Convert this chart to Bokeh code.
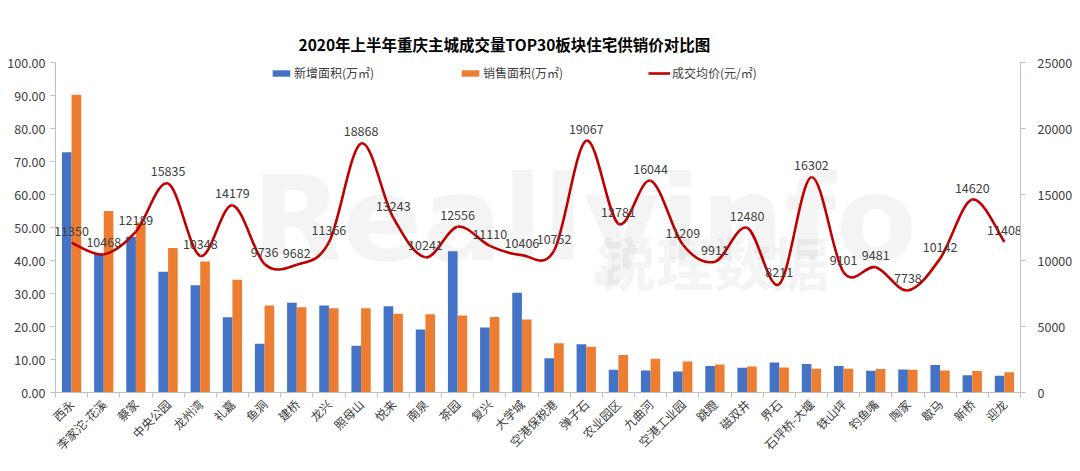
import math
from bokeh.plotting import figure
from bokeh.models import (Range1d, LinearAxis, FixedTicker, NumeralTickFormatter,
                          Legend, LegendItem, ColumnDataSource)
from bokeh.core.properties import value
from bokeh.embed import file_html
from bokeh.resources import INLINE

title_text = "2020年上半年重庆主城成交量TOP30板块住宅供销价对比图"
categories = ["西永", "李家沱-花溪", "蔡家", "中央公园", "龙州湾", "礼嘉", "鱼洞", "建桥", "龙兴", "照母山",
              "悦来", "南泉", "茶园", "复兴", "大学城", "空港保税港", "弹子石", "农业园区", "九曲河", "空港工业园",
              "跳蹬", "磁双井", "界石", "石坪桥-大堰", "铁山坪", "钓鱼嘴", "陶家", "歇马", "新桥", "迎龙"]
new_area = [72.8, 42.0, 47.2, 36.6, 32.5, 22.8, 14.8, 27.2, 26.4, 14.2,
            26.1, 19.1, 42.8, 19.7, 30.2, 10.4, 14.6, 6.9, 6.7, 6.4,
            8.0, 7.5, 9.1, 8.6, 8.0, 6.6, 7.0, 8.3, 5.2, 5.1]
sold_area = [90.2, 55.0, 51.5, 43.8, 39.7, 34.2, 26.4, 25.8, 25.5, 25.5,
             23.9, 23.7, 23.3, 22.9, 22.1, 14.9, 13.9, 11.4, 10.2, 9.4,
             8.5, 7.9, 7.6, 7.2, 7.2, 7.1, 6.9, 6.7, 6.5, 6.1]
price = [11350, 10468, 12189, 15835, 10348, 14179, 9736, 9682, 11366, 18868,
         13243, 10241, 12556, 11110, 10406, 10752, 19067, 12781, 16044, 11209,
         9911, 12480, 8211, 16302, 9101, 9481, 7738, 10142, 14620, 11408]
left_ticks = [0, 10, 20, 30, 40, 50, 60, 70, 80, 90, 100]
right_ticks = [0, 5000, 10000, 15000, 20000, 25000]
legend_labels = ["新增面积(万㎡)", "销售面积(万㎡)", "成交均价(元/㎡)"]
watermark = ["Reallyinfo", "锐理数据"]

FONT = "Noto Sans CJK SC"
BLUE = "#4472C4"
ORANGE = "#ED7D31"
RED = "#C00000"
n = len(categories)
centers = [i + 0.5 for i in range(n)]

p = figure(width=1080, height=471, output_backend="svg", toolbar_location=None,
           x_range=Range1d(0, n), y_range=Range1d(0, 100),
           min_border_left=55, min_border_right=60, min_border_top=62, min_border_bottom=79)
p.extra_y_ranges = {"price": Range1d(0, 25000)}
p.outline_line_color = None
p.xgrid.grid_line_color = None
p.ygrid.grid_line_color = None
p.background_fill_color = "white"

# faint watermark
p.text(x=[6.1], y=[52.7], text=[watermark[0]], text_font=value("DejaVu Sans"),
       text_font_size="118px", text_font_style="bold", text_color="#000000", text_alpha=0.045,
       text_baseline="alphabetic", text_align="left")
p.text(x=[16.85], y=[27.0], text=[watermark[1]], text_font=value(FONT),
       text_font_size="58px", text_font_style="bold", text_color="#000000", text_alpha=0.045,
       text_baseline="bottom", text_align="left")

src = ColumnDataSource(dict(xb=[c - 0.15 for c in centers], xo=[c + 0.15 for c in centers],
                            xc=centers, new=new_area, sold=sold_area, price=price,
                            lab=[str(v) for v in price]))
rb = p.vbar(x="xb", top="new", width=0.3, source=src, fill_color=BLUE, line_color=None)
ro = p.vbar(x="xo", top="sold", width=0.3, source=src, fill_color=ORANGE, line_color=None)

# smooth line (Catmull-Rom Bezier segments through the data points, like Excel's smoothing)
x0, y0, x1, y1, cx0, cy0, cx1, cy1 = [], [], [], [], [], [], [], []
for i in range(n - 1):
    xp, yp = centers[max(i - 1, 0)], price[max(i - 1, 0)]
    xa, ya = centers[i], price[i]
    xb_, yb_ = centers[i + 1], price[i + 1]
    xn, yn = centers[min(i + 2, n - 1)], price[min(i + 2, n - 1)]
    x0.append(xa); y0.append(ya); x1.append(xb_); y1.append(yb_)
    cx0.append(xa + (xb_ - xp) / 6); cy0.append(ya + (yb_ - yp) / 6)
    cx1.append(xb_ - (xn - xa) / 6); cy1.append(yb_ - (yn - ya) / 6)
rl = p.bezier(x0=x0, y0=y0, x1=x1, y1=y1, cx0=cx0, cy0=cy0, cx1=cx1, cy1=cy1,
              line_color=RED, line_width=2.6, y_range_name="price")
p.text(x="xc", y="price", text="lab", source=src, y_range_name="price",
       text_font=value(FONT), text_font_size="12.5px", text_color="#404040",
       text_align="center", text_baseline="bottom", y_offset=-7)

# axes
ax = p.xaxis[0]
ax.ticker = FixedTicker(ticks=centers, minor_ticks=list(range(n + 1)))
ax.major_label_overrides = {c: lab for c, lab in zip(centers, categories)}
ax.major_label_orientation = math.pi / 4
ax.major_tick_out = 0
ax.major_tick_in = 0
ax.minor_tick_out = 5
ax.minor_tick_in = 0
ax.minor_tick_line_color = "#bfbfbf"
ax.axis_line_color = "#bfbfbf"
ax.major_label_text_font = FONT
ax.major_label_text_font_size = "12px"
ax.major_label_text_color = "#404040"
ax.major_label_standoff = 4

ly = p.yaxis[0]
ly.ticker = FixedTicker(ticks=left_ticks)
ly.formatter = NumeralTickFormatter(format="0.00")
ly.axis_line_color = "#bfbfbf"
ly.major_tick_line_color = "#bfbfbf"
ly.major_tick_out = 5
ly.major_tick_in = 0
ly.minor_tick_line_color = None
ly.major_label_text_font = FONT
ly.major_label_text_font_size = "12.5px"
ly.major_label_text_color = "#404040"

ry = LinearAxis(y_range_name="price")
ry.ticker = FixedTicker(ticks=right_ticks)
ry.formatter = NumeralTickFormatter(format="0")
ry.axis_line_color = "#bfbfbf"
ry.major_tick_line_color = "#bfbfbf"
ry.major_tick_out = 5
ry.major_tick_in = 0
ry.minor_tick_line_color = None
ry.major_label_text_font = FONT
ry.major_label_text_font_size = "12.5px"
ry.major_label_text_color = "#404040"
ry.major_label_standoff = 12
p.add_layout(ry, "right")

# legends
for r, lab, xloc in [(rb, legend_labels[0], 215), (ro, legend_labels[1], 404), (rl, legend_labels[2], 593)]:
    lg = Legend(items=[LegendItem(label=lab, renderers=[r])], location=(xloc, 311),
                orientation="horizontal", glyph_width=22, glyph_height=8, label_height=14,
                label_standoff=2, padding=0, margin=0, spacing=0,
                border_line_color=None, background_fill_alpha=0,
                label_text_font=FONT, label_text_font_size="12px", label_text_color="#404040")
    p.add_layout(lg, "center")

p.title.text = title_text
p.title.align = "left"
p.title.offset = 243
p.title.text_font = FONT
p.title.text_font_size = "15.5px"
p.title.text_font_style = "bold"
p.title.text_color = "#000000"
p.title.standoff = 16

open("out.html", "w").write(file_html(p, INLINE))
